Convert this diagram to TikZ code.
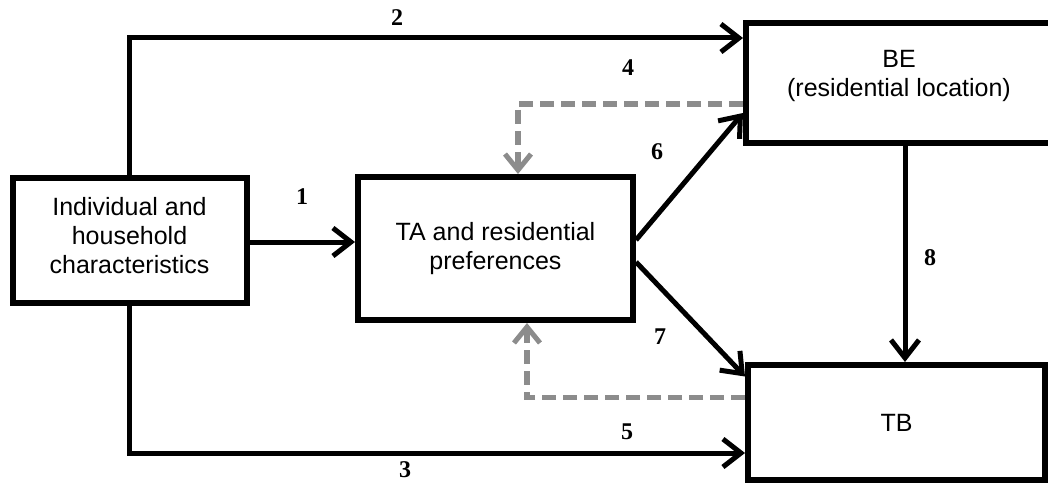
\documentclass[tikz,border=0pt]{standalone}
\usepackage{fontspec}
\setmainfont{Liberation Sans}
\newfontfamily\numfont{Liberation Serif}
\usetikzlibrary{arrows.meta}
\definecolor{dashgray}{RGB}{140,140,140}
\tikzset{
  box/.style={draw=black, line width=6pt, fill=white, align=center, inner sep=0pt,
    font=\fontsize{25}{29}\selectfont},
  arr/.style={line width=5pt, -{Straight Barb[length=18pt,width=28pt,line width=5pt]}},
  darr/.style={line width=5.5pt, draw=dashgray, dash pattern=on 14pt off 7pt,
    -{Straight Barb[length=16pt,width=26pt,line width=5pt]}},
  num/.style={font=\numfont\bfseries\fontsize{24}{24}\selectfont, inner sep=0pt}
}
\begin{document}
\begin{tikzpicture}[x=1pt,y=-1pt]
\useasboundingbox (0,0) rectangle (1048,484);
\fill[white] (0,0) rectangle (1048,484);
% boxes
\node[box, minimum width=234pt, minimum height=125pt] (ind) at (129.5,240.5)
  {Individual and\\household\\characteristics\rule[-10pt]{0pt}{0pt}};
\node[box, minimum width=275pt, minimum height=143pt] (ta) at (495.5,248.5)
  {TA and residential\\preferences};
\node[box, minimum width=306pt, minimum height=120pt] (be) at (899,83)
  {BE\\(residential location)\rule[-19pt]{0pt}{0pt}};
\node[box, minimum width=297pt, minimum height=115pt] (tb) at (896.5,422.5)
  {TB};
% connectors
\draw[arr] (ind.north) |- ([yshift=45pt]be.west);
\draw[arr] (ind.south) |- ([yshift=-30.5pt]tb.west);
\draw[arr] ([yshift=-1.5pt]ind.east) -- ([yshift=-1.5pt]ind.east -| ta.west);
\draw[arr] ([yshift=8.5pt]ta.east) -- ([yshift=-30pt]be.west);
\draw[arr] ([yshift=-13.5pt]ta.east) -- ([yshift=46pt]tb.west);
\draw[arr] ([xshift=6pt]be.south) -- ([xshift=6pt]be.south |- tb.north);
\draw[darr] ([yshift=-21pt]be.west) -| ([xshift=22.5pt]ta.north);
\draw[darr] ([yshift=25pt]tb.west) -| ([xshift=31.5pt]ta.south);
% labels
\node[num] (n1) at (302,197) {1};
\node[num] (n2) at (397,18) {2};
\node[num] (n3) at (405,470) {3};
\node[num] (n4) at (628,68) {4};
\node[num] (n5) at (627,432) {5};
\node[num] (n6) at (657,152) {6};
\node[num] (n7) at (660,337) {7};
\node[num] (n8) at (930,258) {8};
\end{tikzpicture}
\end{document}
